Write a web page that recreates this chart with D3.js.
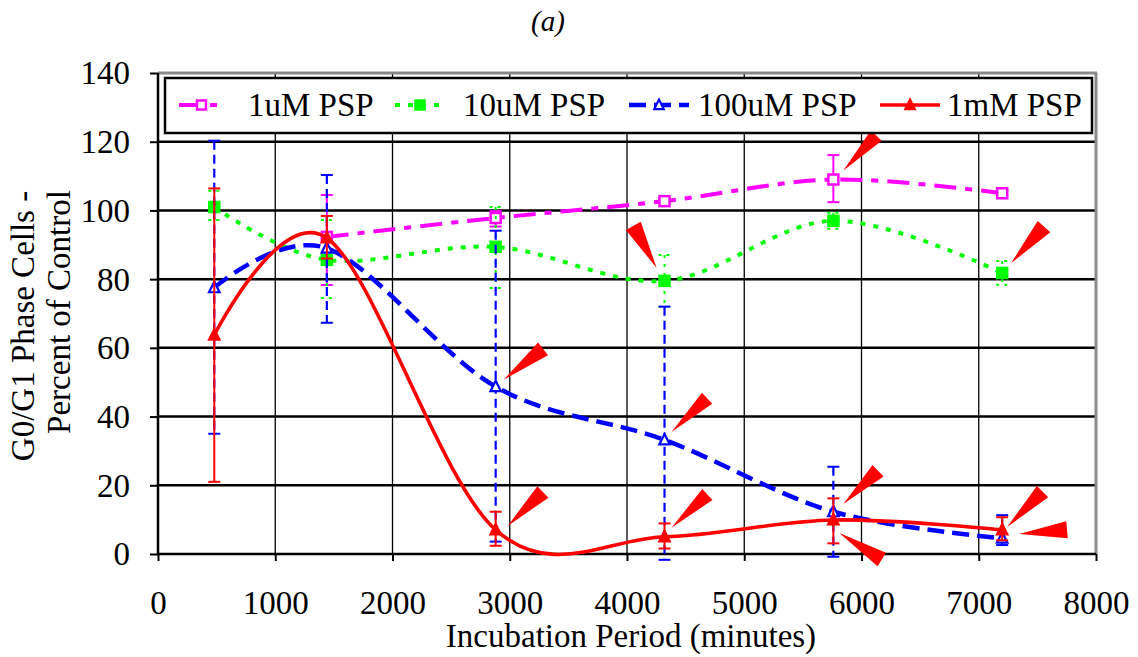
<!DOCTYPE html>
<html>
<head>
<meta charset="utf-8">
<script src="https://cdn.jsdelivr.net/npm/d3@7"></script>
<style>
  html, body { margin: 0; padding: 0; background: #fff; }
  svg { display: block; }
  text { font-family: "Liberation Serif", "Times New Roman", serif; fill: #000; }
</style>
</head>
<body>
<svg id="chart" width="1138" height="657"></svg>
<script>
// Incubation times (minutes)
const times = [480, 1440, 2880, 4320, 5760, 7200];

// G0/G1 phase cells, percent of control, with error bar ends
const uM1      = [null, 92.3, 97.8, 102.7, 109.0, 105.0];
const uM1Hi    = [null, 104.5, 99.8, 103.5, 116.1, 105.8];
const uM1Lo    = [null, 78.3, 95.3, 101.9, 102.4, 104.2];

const uM10     = [101.0, 85.6, 89.4, 79.5, 97.0, 81.8];
const uM10Hi   = [105.7, 97.2, 101.0, 87.0, 99.3, 85.3];
const uM10Lo   = [97.2, 74.5, 77.4, 72.0, 94.7, 78.4];

const uM100    = [77.5, 89.0, 48.7, 33.2, 12.3, 4.6];
const uM100Hi  = [120.3, 110.3, 94.1, 72.0, 25.4, 11.3];
const uM100Lo  = [35.0, 67.3, 3.6, -1.7, -0.8, 2.6];

const mM1      = [63.7, 92.0, 7.0, 5.0, 9.9, 7.0];
const mM1Hi    = [106.4, 98.4, 12.3, 8.9, 16.2, 10.7];
const mM1Lo    = [21.0, 86.0, 2.4, 1.6, 3.1, 4.0];

const xTicks = [0, 1000, 2000, 3000, 4000, 5000, 6000, 7000, 8000];
const yTicks = [0, 20, 40, 60, 80, 100, 120, 140];

const seriesNames = ["1uM PSP", "10uM PSP", "100uM PSP", "1mM PSP"];

// Callout wedges: series index, point index, tip offset (px), direction (deg), length, base width
const callouts = [
  { s: 0, i: 4, dx: 10, dy: -9,  ang: -46.7, len: 48, w: 15 },
  { s: 1, i: 5, dx: 9,  dy: -10, ang: -47.9, len: 49, w: 17 },
  { s: 1, i: 3, dx: -8, dy: -13, ang: -118.9, len: 48, w: 17 },
  { s: 2, i: 2, dx: 8,  dy: -7,  ang: -38,   len: 50, w: 16 },
  { s: 2, i: 3, dx: 7,  dy: -8,  ang: -43.4, len: 49, w: 15 },
  { s: 3, i: 2, dx: 12, dy: -4,  ang: -44,   len: 49, w: 16 },
  { s: 3, i: 3, dx: 7,  dy: -9,  ang: -43,   len: 49, w: 15 },
  { s: 3, i: 4, dx: 10, dy: -16, ang: -43.7, len: 48, w: 16 },
  { s: 3, i: 4, dx: 6,  dy: 13,  ang: 32,    len: 50, w: 16 },
  { s: 3, i: 5, dx: 5,  dy: -3,  ang: -45,   len: 50, w: 16 },
  { s: 3, i: 5, dx: 17, dy: 4,   ang: -5,    len: 48, w: 17 }
];

const styles = [
  { color: "#ff00ff", width: 4,   dash: "22,9,7,9", ebDash: null,  capDash: null,  ebWidth: 2,   marker: "square",   fill: "#fff" },
  { color: "#00ff00", width: 4,   dash: "5,8",      ebDash: "3,6", capDash: "3,5", ebWidth: 2,   marker: "square",   fill: "#00ff00" },
  { color: "#0000ff", width: 4.5, dash: "17,8",     ebDash: "9,5", capDash: null,  ebWidth: 2.2, marker: "triangle", fill: "#fff" },
  { color: "#ff0000", width: 3.6, dash: null,       ebDash: null,  capDash: null,  ebWidth: 2,   marker: "triangle", fill: "#ff0000" }
];

const data = [
  { vals: uM1, hi: uM1Hi, lo: uM1Lo },
  { vals: uM10, hi: uM10Hi, lo: uM10Lo },
  { vals: uM100, hi: uM100Hi, lo: uM100Lo },
  { vals: mM1, hi: mM1Hi, lo: mM1Lo }
];

const FS = "33px";
const svg = d3.select("#chart");
const plotL = 158, plotR = 1096, plotT = 73, plotB = 554;

const x = d3.scaleLinear().domain([0, 8000]).range([plotL, plotR]);
const y = d3.scaleLinear().domain([0, 140]).range([plotB, plotT]);

// Title
svg.append("text").attr("x", 548).attr("y", 31).attr("text-anchor", "middle")
  .style("font-size", "29px").style("font-style", "italic").text("(a)");

// Grid lines
const grid = svg.append("g");
grid.selectAll("line.h").data(yTicks.filter(v => v > 0 && v < 140)).join("line")
  .attr("x1", plotL).attr("x2", plotR).attr("y1", d => y(d)).attr("y2", d => y(d))
  .attr("stroke", "#000").attr("stroke-width", 2.5);
grid.selectAll("line.v").data(xTicks.filter(v => v > 0 && v < 8000)).join("line")
  .attr("y1", plotT).attr("y2", plotB).attr("x1", d => x(d)).attr("x2", d => x(d))
  .attr("stroke", "#000").attr("stroke-width", 1.3);

// Plot frame: top and right in grey
svg.append("line").attr("x1", plotL).attr("x2", plotR + 1).attr("y1", plotT).attr("y2", plotT)
  .attr("stroke", "#888").attr("stroke-width", 3);
svg.append("line").attr("x1", plotR).attr("x2", plotR).attr("y1", plotT).attr("y2", plotB)
  .attr("stroke", "#888").attr("stroke-width", 3);

// Axes
const yAxis = d3.axisLeft(y).tickValues(yTicks).tickSize(8).tickPadding(20).tickFormat(d3.format("d"));
const xAxis = d3.axisBottom(x).tickValues(xTicks).tickSize(7).tickPadding(30).tickFormat(d3.format("d"));

const gy = svg.append("g").attr("transform", `translate(${plotL},0)`).call(yAxis);
const gx = svg.append("g").attr("transform", `translate(0,${plotB})`).call(xAxis);
[gx, gy].forEach(g => {
  g.select(".domain").attr("stroke", "#000").attr("stroke-width", 2.5);
  g.selectAll(".tick line").attr("stroke", "#000").attr("stroke-width", 2);
  g.selectAll(".tick text").style("font-family", "'Liberation Serif', serif")
    .style("font-size", FS).attr("fill", "#000");
});
gx.selectAll(".tick text").attr("dy", null).attr("y", 60);
gy.selectAll(".tick text").attr("dy", null).attr("dy", "0.33em");
gy.select(".domain").attr("d", `M0,${plotB}V${plotT}`);
gx.select(".domain").attr("d", `M${plotL},0H${plotR}`);

// Axis titles
svg.append("text").attr("x", 631).attr("y", 647).attr("text-anchor", "middle")
  .style("font-size", FS).text("Incubation Period (minutes)");
svg.append("text").attr("transform", "translate(34,326) rotate(-90)").attr("text-anchor", "middle")
  .style("font-size", FS).text("G0/G1 Phase Cells -");
svg.append("text").attr("transform", "translate(70,312) rotate(-90)").attr("text-anchor", "middle")
  .style("font-size", FS).text("Percent of Control");

// Marker drawing
function drawMarker(g, type, cx, cy, st, size) {
  if (type === "square") {
    g.append("rect").attr("x", cx - size / 2).attr("y", cy - size / 2)
      .attr("width", size).attr("height", size)
      .attr("fill", st.fill).attr("stroke", st.color).attr("stroke-width", 2.5);
  } else {
    const h = size * 1.0, w = size * 1.05;
    g.append("path")
      .attr("d", `M${cx},${cy - h * 0.6}L${cx + w / 2},${cy + h * 0.45}L${cx - w / 2},${cy + h * 0.45}Z`)
      .attr("fill", st.fill).attr("stroke", st.color).attr("stroke-width", 2.2)
      .attr("stroke-linejoin", "miter");
  }
}

const line = d3.line()
  .defined(d => d[1] != null)
  .x(d => x(d[0])).y(d => y(d[1]))
  .curve(d3.curveCardinal.tension(0));

const plot = svg.append("g");
data.forEach((ser, si) => {
  const st = styles[si];
  const g = plot.append("g");
  const pts = times.map((t, i) => [t, ser.vals[i], ser.hi[i], ser.lo[i]]).filter(d => d[1] != null);

  // error bars
  pts.forEach(d => {
    const cx = x(d[0]);
    g.append("line").attr("x1", cx).attr("x2", cx).attr("y1", y(d[2])).attr("y2", y(d[3]))
      .attr("stroke", st.color).attr("stroke-width", st.ebWidth)
      .attr("stroke-dasharray", st.ebDash);
    [d[2], d[3]].forEach(v => {
      g.append("line").attr("x1", cx - 6).attr("x2", cx + 6).attr("y1", y(v)).attr("y2", y(v))
        .attr("stroke", st.color).attr("stroke-width", 2)
        .attr("stroke-dasharray", st.capDash);
    });
  });

  // smoothed series line
  g.append("path").datum(pts).attr("d", line)
    .attr("fill", "none").attr("stroke", st.color).attr("stroke-width", st.width)
    .attr("stroke-dasharray", st.dash);

  // markers
  pts.forEach(d => drawMarker(g, st.marker, x(d[0]), y(d[1]), st, 10));
});

// Callout wedges
const cg = svg.append("g");
callouts.forEach(c => {
  const px = x(times[c.i]) + c.dx, py = y(data[c.s].vals[c.i]) + c.dy;
  const a = c.ang * Math.PI / 180;
  const ex = px + Math.cos(a) * c.len, ey = py + Math.sin(a) * c.len;
  const nx = -Math.sin(a) * c.w / 2, ny = Math.cos(a) * c.w / 2;
  cg.append("path")
    .attr("d", `M${px},${py}L${ex + nx},${ey + ny}L${ex - nx},${ey - ny}Z`)
    .attr("fill", "#ff0000");
});

// Legend
const lg = svg.append("g");
lg.append("rect").attr("x", 165).attr("y", 78).attr("width", 927).attr("height", 55)
  .attr("fill", "#fff").attr("stroke", "#000").attr("stroke-width", 2.5);
const legendPos = [
  { x1: 179, x2: 224, tx: 248 },
  { x1: 395, x2: 445, tx: 463 },
  { x1: 629, x2: 689, tx: 698 },
  { x1: 880, x2: 940, tx: 947 }
];
seriesNames.forEach((name, si) => {
  const st = styles[si], p = legendPos[si];
  const ly = 105;
  lg.append("line").attr("x1", p.x1).attr("x2", p.x2).attr("y1", ly).attr("y2", ly)
    .attr("stroke", st.color).attr("stroke-width", st.width)
    .attr("stroke-dasharray", st.dash);
  drawMarker(lg, st.marker, (p.x1 + p.x2) / 2, ly, st, 9);
  lg.append("text").attr("x", p.tx).attr("y", ly + 11).style("font-size", FS).text(name);
});
</script>
</body>
</html>
